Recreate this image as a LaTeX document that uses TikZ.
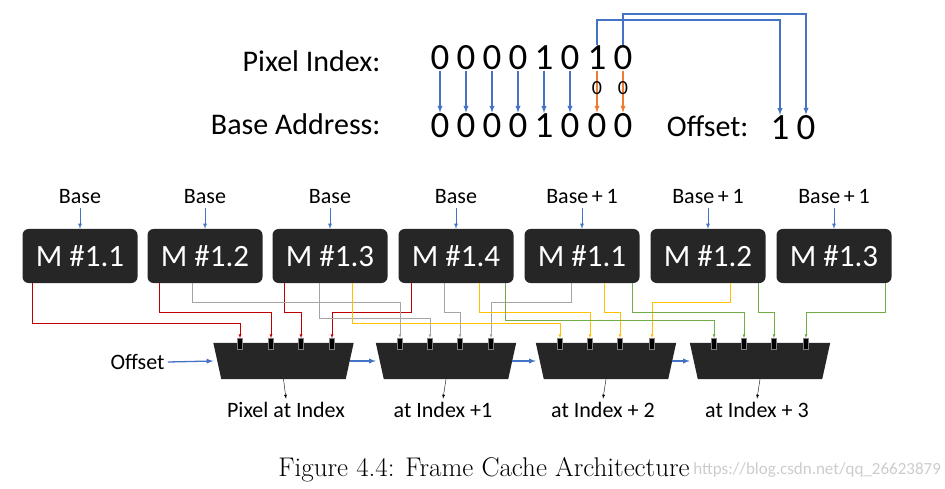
\documentclass[tikz,border=0pt]{standalone}
\usepackage{fontspec}
\setmainfont{Carlito}
\newfontfamily\capfont{Latin Modern Roman}
\usetikzlibrary{positioning}
\definecolor{cblue}{HTML}{4472C4}
\definecolor{corange}{HTML}{ED7D31}
\definecolor{cred}{HTML}{C00000}
\definecolor{cgray}{HTML}{A5A5A5}
\definecolor{cyellow}{HTML}{FFC000}
\definecolor{cgreen}{HTML}{70AD47}
\definecolor{cdark}{HTML}{262626}
\tikzset{
  mem/.style={rounded corners=6pt, fill=cdark, text=white, minimum width=115pt,
    minimum height=54pt, font=\fontsize{31}{33}\selectfont, inner sep=0pt},
  mux/.style={minimum width=140pt, minimum height=36pt, inner sep=0pt},
  port/.style={fill=black, draw=gray, line width=0.4pt, minimum width=5pt, minimum height=11pt, inner sep=0pt},
  digit/.style={font=\fontsize{37}{39}\selectfont, inner sep=1pt},
  big/.style={font=\fontsize{30}{32}\selectfont},
  lbl/.style={font=\fontsize{22}{24}\selectfont},
  arr/.style={-latex, line width=1.3pt, draw=cblue}
}
\newcommand{\wire}[5]{\draw[-latex, #1] ([xshift=#3pt]#2.south) -- ++(0,#4) -| (#5.north);}
\begin{document}
\begin{tikzpicture}[x=1pt, y=-1pt]
  \useasboundingbox (0,0) rectangle (945,489);
  % index and base address
  \node[anchor=east, big] (pi) at (384,61) {Pixel Index:};
  \node[anchor=east, big] (ba) at (384,124) {Base Address:};
  \foreach \i/\x/\a/\b in {1/440/0/0, 2/466/0/0, 3/492/0/0, 4/518/0/0, 5/544/1/1, 6/570/0/0, 7/597/1/0, 8/623/0/0} {
    \node[digit] (d\i) at (\x,58) {\a};
    \node[digit] (e\i) at (\x,126) {\b};
  }
  \foreach \i in {1,...,6} \draw[arr] (d\i.south) -- (e\i.north);
  \foreach \i in {7,8} {
    \draw[arr, draw=corange] (d\i.south) -- (e\i.north);
    \node[font=\fontsize{20}{22}\selectfont, inner sep=0pt] (z\i) at (d\i |- 0,88) {0};
  }
  \node[anchor=east, big] (ofs) at (752,126) {Offset:};
  \node[digit] (o1) at (780,128) {1};
  \node[digit] (o2) at (806,128) {0};
  \draw[arr] (d7.north) -- (d7.north |- 0,20) -| (o1.north);
  \draw[arr] (d8.north) -- (d8.north |- 0,14) -| (o2.north);
  % memory blocks
  \foreach \i/\x/\t/\bl in {1/80/M \#1.1/Base, 2/205/M \#1.2/Base, 3/330/M \#1.3/Base, 4/456/M \#1.4/Base,
      5/582/M \#1.1/Base\,+\,1, 6/708/M \#1.2/Base\,+\,1, 7/834/M \#1.3/Base\,+\,1} {
    \node[mem] (m\i) at (\x,256) {\t};
    \node[lbl] (b\i) at (\x,197) {\bl};
    \draw[-latex, cblue, thick] (b\i.south) -- (m\i.north);
  }
  % multiplexers
  \foreach \i/\x in {1/283.5, 2/446, 3/606, 4/760} {
    \node[mux] (mx\i) at (\x,361) {};
    \fill[cdark] (mx\i.north west) -- (mx\i.north east) -- ([xshift=-8pt]mx\i.south east)
      -- ([xshift=8pt]mx\i.south west) -- cycle;
  }
  \foreach \x [count=\n] in {240,271,301,332, 400,430,460,491, 560,590,620,652, 714,744,774,806}
    \node[port] (p\n) at (\x,344) {};
  % wires
  \wire{cred}{m1}{-48}{40}{p1}
  \wire{cred}{m2}{-46}{29}{p2}
  \wire{cred}{m3}{-46}{29}{p3}
  \wire{cred}{m4}{-45}{29}{p4}
  \wire{cgray}{m2}{-13}{19}{p5}
  \wire{cgray}{m3}{-11}{35}{p6}
  \wire{cgray}{m4}{-12}{29}{p7}
  \wire{cgray}{m5}{-11}{19}{p8}
  \wire{cyellow}{m3}{22}{40}{p9}
  \wire{cyellow}{m4}{23}{29}{p10}
  \wire{cyellow}{m5}{22}{29}{p11}
  \wire{cyellow}{m6}{22}{19}{p12}
  \wire{cgreen}{m4}{49}{37}{p13}
  \wire{cgreen}{m5}{50}{29}{p14}
  \wire{cgreen}{m6}{50}{29}{p15}
  \wire{cgreen}{m7}{51}{29}{p16}
  % offset chain and outputs
  \node[lbl, anchor=east] (off) at (168,362) {Offset};
  \draw[arr] (off.east) -- (mx1.west);
  \draw[arr] ([xshift=-4pt]mx1.east) -- (mx2.west);
  \draw[arr] ([xshift=-4pt]mx2.east) -- (mx3.west);
  \draw[arr] ([xshift=-4pt]mx3.east) -- (mx4.west);
  \foreach \i/\x/\t in {1/286/Pixel at Index, 2/443/at Index +1, 3/603/at Index + 2, 4/757/at Index + 3} {
    \node[lbl] (q\i) at (\x,410) {\t};
    \draw[-latex] (mx\i.south) -- (q\i.north);
  }
  % caption
  \node[font=\capfont\fontsize{27}{29}\selectfont] (cap) at (484,470) {Figure 4.4: Frame Cache Architecture};
  \node[anchor=west, text=gray!40, font=\fontsize{17}{19}\selectfont, inner sep=0pt] (wm) at (cap.east) {https://blog.csdn.net/qq\_26623879};
\end{tikzpicture}
\end{document}
